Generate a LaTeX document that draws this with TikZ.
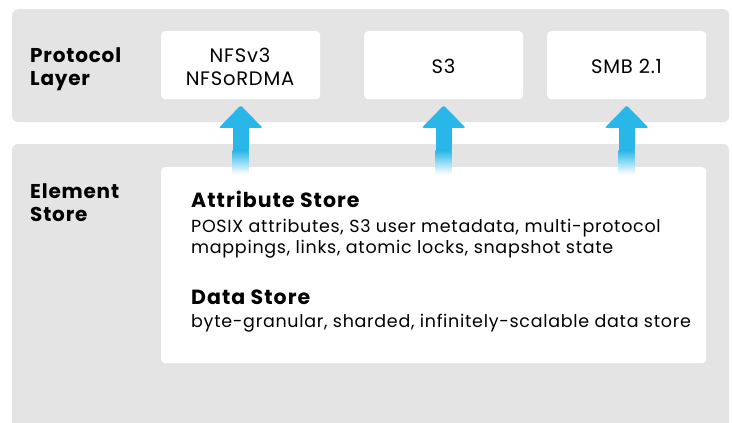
\documentclass[tikz,border=0pt]{standalone}
\usepackage{fontspec}
\setmainfont{Poppins}[LetterSpace=4]
\newfontfamily\boldwide{Poppins}[LetterSpace=5]
\usetikzlibrary{calc}
\definecolor{panelgray}{RGB}{228,228,228}
\definecolor{arrowblue}{RGB}{41,182,232}
\tikzset{
  panel/.style={fill=panelgray, draw=none, rounded corners=6pt},
  card/.style={fill=white, draw=none, rounded corners=4pt},
  layerlabel/.style={anchor=base west, inner sep=0pt, font=\fontsize{20}{24}\selectfont\bfseries, align=left},
  prototext/.style={inner sep=0pt, font=\fontsize{19.5}{22}\selectfont, align=center},
  headtext/.style={anchor=base west, inner sep=0pt, font=\boldwide\fontsize{20.5}{24}\selectfont\bfseries},
  bodytext/.style={anchor=base west, inner sep=0pt, font=\fontsize{17.5}{21}\selectfont},
}
\newcommand{\upflow}[2]{% #1 = source card, #2 = target node
  \coordinate (tip) at ($(#2.south)+(0,6)$);
  \fill[arrowblue, rounded corners=2pt] ($(tip)+(-22,22.5)$) -- (tip) -- ($(tip)+(22,22.5)$) -- cycle;
  \fill[arrowblue] ($(tip)+(-8,22)$) rectangle ($(tip)+(8,45)$);
  \shade[top color=arrowblue, bottom color=white] ($(tip)+(-8,44.8)$) rectangle ($(tip)+(8,69)$);
}
\begin{document}
\begin{tikzpicture}[x=1pt,y=-1pt]
\useasboundingbox (0,0) rectangle (732,423);
\fill[white] (0,0) rectangle (732,423);
% panels
\node[panel, minimum width=717pt, minimum height=113pt, anchor=north west] (proto) at (12,9) {};
\begin{scope}
\clip (0,0) rectangle (732,423);
\fill[panelgray, rounded corners=6pt] (12,144) rectangle (729,445);
\end{scope}
\coordinate (elem) at (12,144);
% protocol cards
\node[card, minimum width=159pt, minimum height=68pt, anchor=north west] (nfs) at (161,31) {};
\node[card, minimum width=159pt, minimum height=68pt, anchor=north west] (s3) at (364,31) {};
\node[card, minimum width=159pt, minimum height=68pt, anchor=north west] (smb) at (547,31) {};
\node[prototext, anchor=base] (nfst1) at (240,63) {NFSv3};
\node[prototext, anchor=base] (nfst2) at (240,85) {NFSoRDMA};
\node[prototext, anchor=base] (s3t) at (443.5,74) {S3};
\node[prototext, anchor=base] (smbt) at (626.5,74) {SMB 2.1};
% element card
\node[card, minimum width=545pt, minimum height=196pt, anchor=north west] (store) at (161,167) {};
% arrows
\upflow{store}{nfs}
\upflow{store}{s3}
\upflow{store}{smb}
% labels
\node[layerlabel] (pl1) at (30,62) {Protocol};
\node[layerlabel] (pl2) at (30,85) {Layer};
\node[layerlabel] (el1) at (30,198) {Element};
\node[layerlabel] (el2) at (30,221) {Store};
% store text
\node[headtext] (ash) at (191,207) {Attribute Store};
\node[bodytext] (asb1) at (191,232) {POSIX attributes, S3 user metadata, multi-protocol};
\node[bodytext] (asb2) at (191,253) {mappings, links, atomic locks, snapshot state};
\node[headtext] (dsh) at (191,304) {Data Store};
\node[bodytext] (dsb) at (191,327) {byte-granular, sharded, infinitely-scalable data store};
\end{tikzpicture}
\end{document}
